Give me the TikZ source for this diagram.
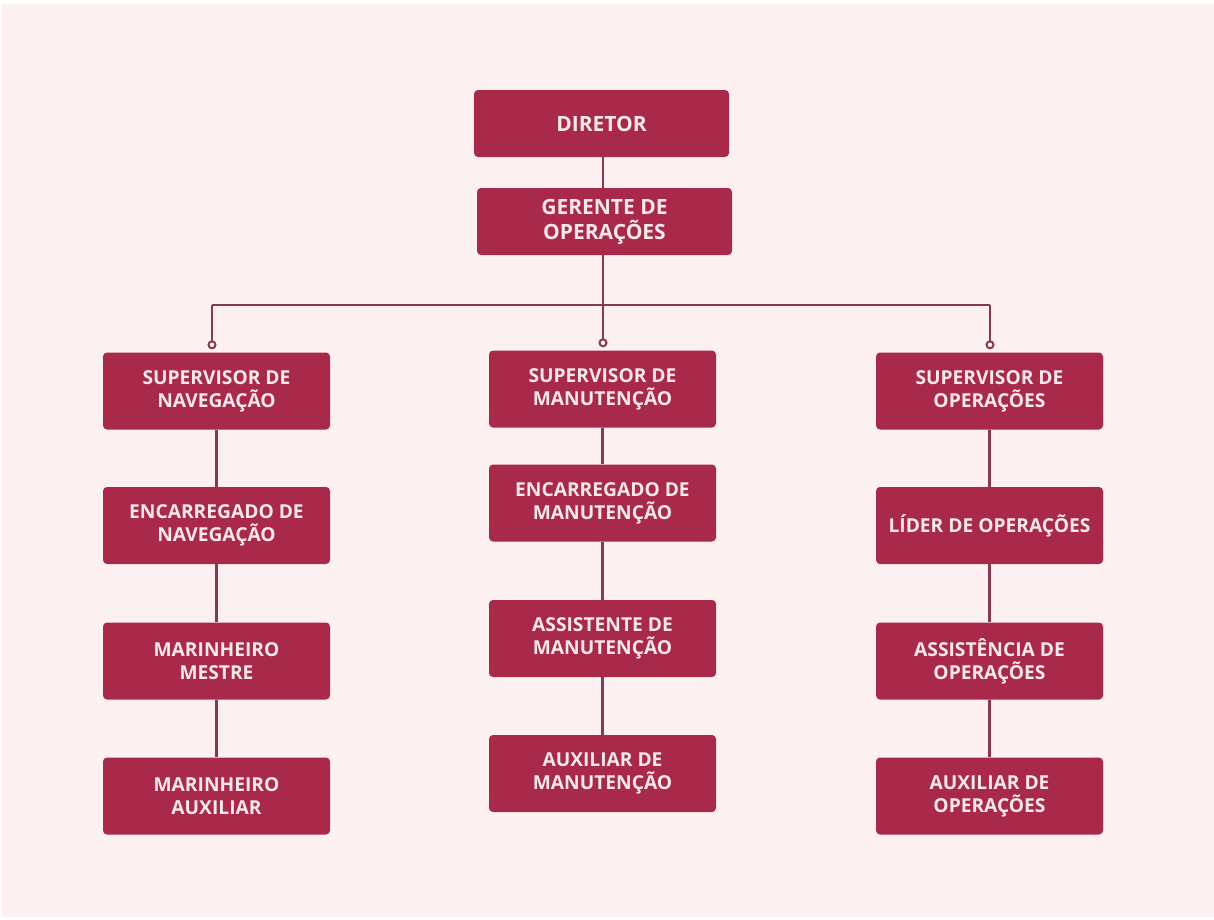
\documentclass[tikz,border=0pt]{standalone}
\usepackage{fontspec}
\setmainfont{Open Sans}
\usetikzlibrary{arrows.meta}

\definecolor{fundo}{HTML}{FDF0F0}
\definecolor{caixa}{HTML}{A8294A}
\definecolor{linha}{HTML}{843A54}
\definecolor{texto}{HTML}{FAE8EC}

\tikzset{
  cargo/.style={fill=caixa, rounded corners=4pt, minimum width=227pt, minimum height=77pt,
    align=center, text=texto, font=\bfseries\fontsize{19.2}{23}\selectfont, inner sep=0pt},
  topo/.style={cargo, minimum width=255pt, minimum height=67pt,
    font=\bfseries\fontsize{21}{25}\selectfont},
  liga/.style={draw=linha, line width=2.4pt},
  ramo/.style={liga, -{Circle[open, length=9pt, width=9pt, line width=2pt]}, shorten >=3pt}
}

\begin{document}
\begin{tikzpicture}[x=1pt, y=-1pt]
    % fundo
    \useasboundingbox (0,0) rectangle (1214,919);
    \fill[white] (0,0) rectangle (1214,919);
    \fill[fundo] (2,4) rectangle (1214,917);

    % topo
    \node[topo] (dir) at (601.5,123.5) {DIRETOR};
    \node[topo] (ger) at (604.5,221.5) {GERENTE DE\\OPERAÇÕES};

    % coluna esquerda
    \node[cargo] (supnav) at (216.5,391) {SUPERVISOR DE\\NAVEGAÇÃO};
    \node[cargo] (encnav) at (216.5,525.5) {ENCARREGADO DE\\NAVEGAÇÃO};
    \node[cargo] (marmes) at (216.5,661) {MARINHEIRO\\MESTRE};
    \node[cargo] (maraux) at (216.5,796) {MARINHEIRO\\AUXILIAR};

    % coluna do meio
    \node[cargo] (supman) at (602.5,389) {SUPERVISOR DE\\MANUTENÇÃO};
    \node[cargo] (encman) at (602.5,503) {ENCARREGADO DE\\MANUTENÇÃO};
    \node[cargo] (assman) at (602.5,638.5) {ASSISTENTE DE\\MANUTENÇÃO};
    \node[cargo] (auxman) at (602.5,773.5) {AUXILIAR DE\\MANUTENÇÃO};

    % coluna direita
    \node[cargo] (supop) at (989.5,391) {SUPERVISOR DE\\OPERAÇÕES};
    \node[cargo] (lidop) at (989.5,525.5) {LÍDER DE OPERAÇÕES};
    \node[cargo] (assop) at (989.5,661) {ASSISTÊNCIA DE\\OPERAÇÕES};
    \node[cargo] (auxop) at (989.5,796) {AUXILIAR DE\\OPERAÇÕES};

    % barramento
    \coordinate (bmeio) at (603,305);
    \coordinate (besq) at (212,305);
    \coordinate (bdir) at (990,305);

    \draw[liga] (dir.south -| bmeio) -- (ger.north -| bmeio);
    \draw[liga] (ger.south -| bmeio) -- (bmeio);
    \draw[liga] (besq) -- (bdir);
    \draw[ramo] (besq) -- (besq |- supnav.north);
    \draw[ramo] (bmeio) -- (bmeio |- supman.north);
    \draw[ramo] (bdir) -- (bdir |- supop.north);

    % verticais
    \foreach \a/\b in {supnav/encnav, encnav/marmes, marmes/maraux,
                       supman/encman, encman/assman, assman/auxman,
                       supop/lidop, lidop/assop, assop/auxop}
        \draw[liga] (\a.south) -- (\b.north);
\end{tikzpicture}
\end{document}
